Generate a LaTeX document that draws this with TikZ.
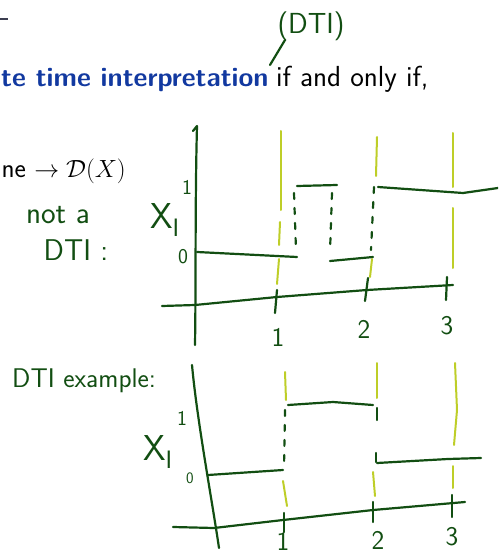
\documentclass[tikz,border=0pt]{standalone}
\usepackage{amsmath}
\definecolor{ink}{RGB}{18,78,18}
\definecolor{hl}{RGB}{190,206,40}
\definecolor{slideblue}{RGB}{18,57,160}
\definecolor{slategray}{RGB}{60,62,80}
\begin{document}
\begin{tikzpicture}[x=1pt,y=-1pt,
  pen/.style={draw=ink,line width=2.2pt,line cap=round,line join=round},
  guide/.style={draw=hl,line width=2pt,line cap=round},
  jump/.style={pen,dash pattern=on 6pt off 9pt},
  hand/.style={text=ink,font=\sffamily\fontsize{27}{30}\selectfont,inner sep=0pt},
  handsmall/.style={text=ink,font=\sffamily\fontsize{21}{24}\selectfont,inner sep=0pt},
  handbig/.style={text=ink,font=\sffamily\fontsize{36}{38}\selectfont,inner sep=0pt},
  slide/.style={font=\sffamily\fontsize{27}{32}\selectfont,inner sep=0pt},
  slidewide/.style={font=\sffamily\fontsize{29}{34}\selectfont,inner sep=0pt},
  slidebold/.style={font=\sffamily\bfseries\fontsize{27}{32}\selectfont,inner sep=0pt,text=slideblue}]
\useasboundingbox (0,0) rectangle (498,556);
\clip (0,0) rectangle (498,556);

% slide text
\draw[draw=slategray,line width=2pt] (0,19) -- (8,19);
\node[slidebold,anchor=base west] (term) at (1,87) {te time interpretation};
\node[slidewide,anchor=base west] (iff) at (276,87) {if and only if,};
\node[slide,anchor=base east] (map) at (126,177) {ne $\to \mathcal{D}(X)$};

% annotation (DTI)
\node[hand,font=\sffamily\fontsize{29}{32}\selectfont] (dtitag) at (311,26) {(DTI)};
\coordinate (leadA) at (270,65);
\coordinate (leadB) at (285,40);
\draw[pen] (leadA) -- (leadB);

% ---------- top plot: not a DTI ----------
\node[hand,font=\sffamily\fontsize{31}{34}\selectfont] (nota) at (58,215) {not a};
\node[hand,font=\sffamily\fontsize{30}{34}\selectfont] (notdti) at (76,250) {DTI :};
\node[handbig] (xtop) at (165,220) {X\textsubscript{I}};
\node[handsmall] (onetop) at (187,187) {1};
\node[handsmall] (zerotop) at (183,257) {0};

% guides
\draw[guide] (281,131) -- (281,210);
\draw[guide] (280,222) -- (279,245);
\draw[guide] (279,259) -- (277,284);
\draw[guide] (377,137) -- (376,176);
\draw[guide] (372,259) -- (370,277);
\draw[guide] (453,133) -- (453,187);
\draw[guide] (453,208) -- (453,268);

% axes
\draw[pen] (193,131) -- (197,126) .. controls (195,200) and (196,280) .. (195,345);
\draw[pen] (162,306) -- (195,305) -- (277,297) -- (367,290) -- (453,285);
\draw[pen] (277,290) -- (275,313);
\draw[pen] (368,278) -- (365,301);
\draw[pen] (447,277) -- (446,300);
\node[hand] (t1top) at (278,337) {1};
\node[hand] (t2top) at (364,329) {2};
\node[hand] (t3top) at (447,326) {3};

% signal
\draw[pen] (197,252) -- (297,257);
\draw[pen] (297,186) -- (337,185);
\draw[jump] (294,193) -- (296,250);
\draw[jump] (332,193) -- (330,252);
\draw[pen] (330,261) -- (373,257);
\draw[jump] (374,187) -- (371,250);
\draw[pen] (378,187) -- (463,193) -- (498,188);

% ---------- bottom plot: DTI example ----------
\node[hand,anchor=west] (example) at (12,381) {DTI example:};
\node[handbig] (xbot) at (158,452) {X\textsubscript{I}};
\node[handsmall] (onebot) at (182,418) {1};
\node[text=ink,font=\sffamily\fontsize{16}{18}\selectfont,inner sep=0pt] (zerobot) at (190,478) {0};

% guides
\draw[guide] (285,372) -- (286,400);
\draw[guide] (283,481) -- (287,506);
\draw[guide] (377,363) -- (377,398);
\draw[guide] (373,472) -- (375,496);
\draw[guide] (455,363) -- (457,410) -- (454,445);
\draw[guide] (453,466) -- (453,488);

% axes
\draw[pen] (192,365) .. controls (197,420) and (212,500) .. (219,548);
\draw[pen] (173,527) -- (214,528) -- (283,520) -- (373,510) -- (465,502);
\draw[pen] (284,513) -- (284,532);
\draw[pen] (373,502) -- (373,522);
\draw[pen] (452,495) -- (452,517);
\node[hand] (t1bot) at (283,541) {1};
\node[hand] (t2bot) at (378,540) {2};
\node[hand] (t3bot) at (452,537) {3};

% signal
\draw[pen] (208,475) -- (283,470);
\draw[jump] (285,410) -- (284,467);
\draw[pen] (288,405) -- (333,402) -- (373,405);
\draw[pen] (377,408) -- (377,420);
\draw[pen] (376,453) -- (376,462);
\draw[pen] (377,463) -- (448,459) -- (481,458);
\end{tikzpicture}
\end{document}
